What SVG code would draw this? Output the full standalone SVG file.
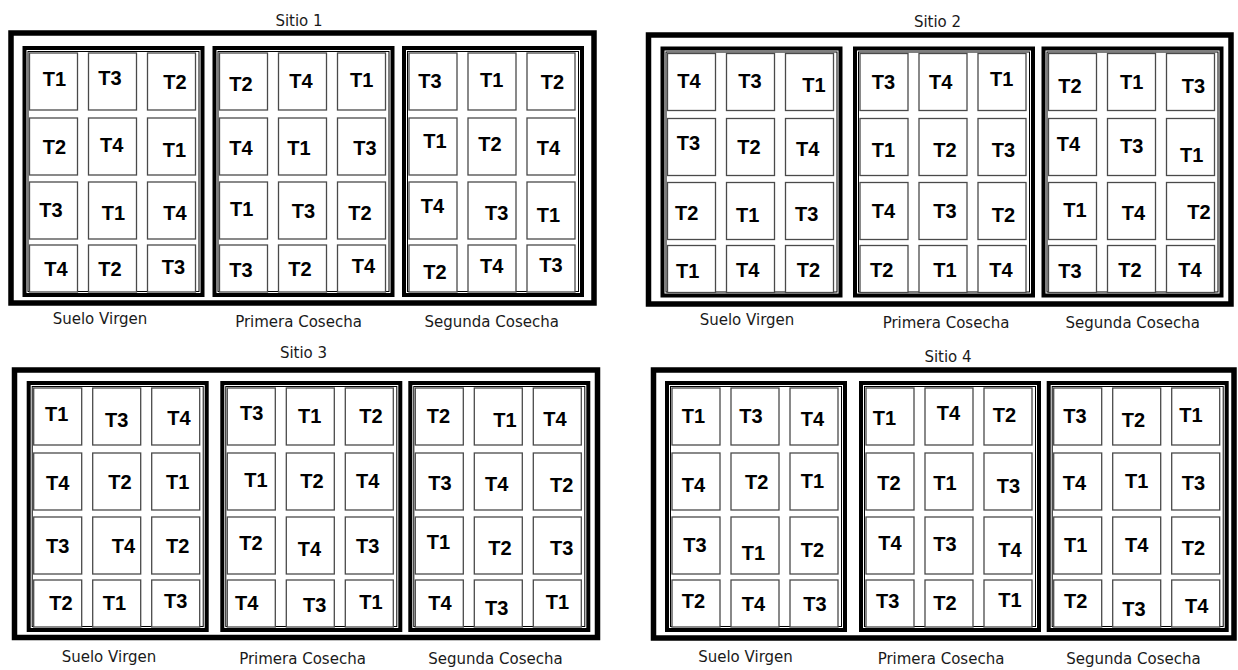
<svg xmlns="http://www.w3.org/2000/svg" width="1238" height="670" viewBox="0 0 1238 670">
<style>
.o{fill:none;stroke:#000;stroke-width:5.5}
.b{fill:none;stroke:#000;stroke-width:4}
.bt{fill:none;stroke:#000;stroke-width:1}
.c{fill:#fff;stroke:#4a4a4a;stroke-width:1.3}
.t{font-family:"Liberation Sans",Arial,sans-serif;font-weight:bold;font-size:20px;fill:#000}
.l{font-family:"DejaVu Sans","Noto Sans",sans-serif;font-size:15px;fill:#1a1a1a;text-anchor:middle}
</style>
<rect width="1238" height="670" fill="#fff"/>

<g id="sitio1">
<text class="l" x="299" y="26">Sitio 1</text>
<rect class="o" x="11" y="33" width="583" height="270"/>
<g id="s1-suelo-virgen">
<rect class="b" x="24.5" y="48" width="178" height="247"/><rect class="bt" x="28" y="51.5" width="171" height="240"/>
<g id="s1b1r1c1"><rect class="c" x="29.5" y="53" width="48" height="57"/><text class="t" x="42.7" y="86">T1</text></g>
<g id="s1b1r1c2"><rect class="c" x="88.5" y="53" width="48" height="57"/><text class="t" x="98.3" y="85">T3</text></g>
<g id="s1b1r1c3"><rect class="c" x="147.5" y="53" width="48" height="57"/><text class="t" x="163.3" y="89.3">T2</text></g>
<g id="s1b1r2c1"><rect class="c" x="29.5" y="118" width="48" height="57"/><text class="t" x="42.7" y="154">T2</text></g>
<g id="s1b1r2c2"><rect class="c" x="88.5" y="118" width="48" height="57"/><text class="t" x="100" y="151.7">T4</text></g>
<g id="s1b1r2c3"><rect class="c" x="147.5" y="118" width="48" height="57"/><text class="t" x="162.7" y="156.7">T1</text></g>
<g id="s1b1r3c1"><rect class="c" x="29.5" y="182" width="48" height="57"/><text class="t" x="39.3" y="217.3">T3</text></g>
<g id="s1b1r3c2"><rect class="c" x="88.5" y="182" width="48" height="57"/><text class="t" x="101.7" y="220">T1</text></g>
<g id="s1b1r3c3"><rect class="c" x="147.5" y="182" width="48" height="57"/><text class="t" x="163.3" y="220">T4</text></g>
<g id="s1b1r4c1"><rect class="c" x="29.5" y="245" width="48" height="47"/><text class="t" x="44.3" y="276">T4</text></g>
<g id="s1b1r4c2"><rect class="c" x="88.5" y="245" width="48" height="47"/><text class="t" x="98.3" y="276">T2</text></g>
<g id="s1b1r4c3"><rect class="c" x="147.5" y="245" width="48" height="47"/><text class="t" x="161.7" y="274">T3</text></g>
</g>
<g id="s1-primera-cosecha">
<rect class="b" x="214.5" y="48" width="178" height="247"/><rect class="bt" x="218" y="51.5" width="171" height="240"/>
<g id="s1b2r1c1"><rect class="c" x="219.5" y="53" width="48" height="57"/><text class="t" x="229.3" y="90.7">T2</text></g>
<g id="s1b2r1c2"><rect class="c" x="278.5" y="53" width="48" height="57"/><text class="t" x="289.3" y="88.3">T4</text></g>
<g id="s1b2r1c3"><rect class="c" x="337.5" y="53" width="48" height="57"/><text class="t" x="350" y="86.7">T1</text></g>
<g id="s1b2r2c1"><rect class="c" x="219.5" y="118" width="48" height="57"/><text class="t" x="229.3" y="155">T4</text></g>
<g id="s1b2r2c2"><rect class="c" x="278.5" y="118" width="48" height="57"/><text class="t" x="287.3" y="155">T1</text></g>
<g id="s1b2r2c3"><rect class="c" x="337.5" y="118" width="48" height="57"/><text class="t" x="353.3" y="155">T3</text></g>
<g id="s1b2r3c1"><rect class="c" x="219.5" y="182" width="48" height="57"/><text class="t" x="230" y="216">T1</text></g>
<g id="s1b2r3c2"><rect class="c" x="278.5" y="182" width="48" height="57"/><text class="t" x="291.7" y="218">T3</text></g>
<g id="s1b2r3c3"><rect class="c" x="337.5" y="182" width="48" height="57"/><text class="t" x="348.3" y="220">T2</text></g>
<g id="s1b2r4c1"><rect class="c" x="219.5" y="245" width="48" height="47"/><text class="t" x="229.3" y="277.3">T3</text></g>
<g id="s1b2r4c2"><rect class="c" x="278.5" y="245" width="48" height="47"/><text class="t" x="288.3" y="276">T2</text></g>
<g id="s1b2r4c3"><rect class="c" x="337.5" y="245" width="48" height="47"/><text class="t" x="351.7" y="273.3">T4</text></g>
</g>
<g id="s1-segunda-cosecha">
<rect class="b" x="404" y="48" width="178" height="247"/><rect class="bt" x="407.5" y="51.5" width="171" height="240"/>
<g id="s1b3r1c1"><rect class="c" x="409" y="53" width="48" height="57"/><text class="t" x="418.3" y="88.3">T3</text></g>
<g id="s1b3r1c2"><rect class="c" x="468" y="53" width="48" height="57"/><text class="t" x="480" y="86.7">T1</text></g>
<g id="s1b3r1c3"><rect class="c" x="527" y="53" width="48" height="57"/><text class="t" x="540.7" y="89.3">T2</text></g>
<g id="s1b3r2c1"><rect class="c" x="409" y="118" width="48" height="57"/><text class="t" x="423.3" y="148.3">T1</text></g>
<g id="s1b3r2c2"><rect class="c" x="468" y="118" width="48" height="57"/><text class="t" x="478.3" y="150.7">T2</text></g>
<g id="s1b3r2c3"><rect class="c" x="527" y="118" width="48" height="57"/><text class="t" x="536.7" y="155">T4</text></g>
<g id="s1b3r3c1"><rect class="c" x="409" y="182" width="48" height="57"/><text class="t" x="420.7" y="213.3">T4</text></g>
<g id="s1b3r3c2"><rect class="c" x="468" y="182" width="48" height="57"/><text class="t" x="485" y="220">T3</text></g>
<g id="s1b3r3c3"><rect class="c" x="527" y="182" width="48" height="57"/><text class="t" x="536.7" y="221.7">T1</text></g>
<g id="s1b3r4c1"><rect class="c" x="409" y="245" width="48" height="47"/><text class="t" x="423.3" y="279.3">T2</text></g>
<g id="s1b3r4c2"><rect class="c" x="468" y="245" width="48" height="47"/><text class="t" x="480" y="273.3">T4</text></g>
<g id="s1b3r4c3"><rect class="c" x="527" y="245" width="48" height="47"/><text class="t" x="539.3" y="271.7">T3</text></g>
</g>
<text class="l" x="100" y="324">Suelo Virgen</text>
<text class="l" x="298.5" y="327">Primera Cosecha</text>
<text class="l" x="491.7" y="327">Segunda Cosecha</text>
</g>

<g id="sitio2">
<text class="l" x="937.5" y="26.7">Sitio 2</text>
<rect class="o" x="648.5" y="35" width="582.5" height="269"/>
<g id="s2-suelo-virgen">
<rect class="b" x="662.5" y="48.5" width="178" height="247"/><rect class="bt" x="666" y="52" width="171" height="240"/>
<g id="s2b1r1c1"><rect class="c" x="667.5" y="53.5" width="48" height="57"/><text class="t" x="677.3" y="88.3">T4</text></g>
<g id="s2b1r1c2"><rect class="c" x="726.5" y="53.5" width="48" height="57"/><text class="t" x="738.3" y="88.3">T3</text></g>
<g id="s2b1r1c3"><rect class="c" x="785.5" y="53.5" width="48" height="57"/><text class="t" x="802.3" y="91.7">T1</text></g>
<g id="s2b1r2c1"><rect class="c" x="667.5" y="118.5" width="48" height="57"/><text class="t" x="676.7" y="150">T3</text></g>
<g id="s2b1r2c2"><rect class="c" x="726.5" y="118.5" width="48" height="57"/><text class="t" x="737.3" y="154">T2</text></g>
<g id="s2b1r2c3"><rect class="c" x="785.5" y="118.5" width="48" height="57"/><text class="t" x="796" y="156">T4</text></g>
<g id="s2b1r3c1"><rect class="c" x="667.5" y="182.5" width="48" height="57"/><text class="t" x="675" y="220">T2</text></g>
<g id="s2b1r3c2"><rect class="c" x="726.5" y="182.5" width="48" height="57"/><text class="t" x="736" y="221.7">T1</text></g>
<g id="s2b1r3c3"><rect class="c" x="785.5" y="182.5" width="48" height="57"/><text class="t" x="795" y="220.7">T3</text></g>
<g id="s2b1r4c1"><rect class="c" x="667.5" y="245.5" width="48" height="47"/><text class="t" x="676" y="278.3">T1</text></g>
<g id="s2b1r4c2"><rect class="c" x="726.5" y="245.5" width="48" height="47"/><text class="t" x="736" y="277.3">T4</text></g>
<g id="s2b1r4c3"><rect class="c" x="785.5" y="245.5" width="48" height="47"/><text class="t" x="796.7" y="276.7">T2</text></g>
</g>
<g id="s2-primera-cosecha">
<rect class="b" x="855" y="48.5" width="178" height="247"/><rect class="bt" x="858.5" y="52" width="171" height="240"/>
<g id="s2b2r1c1"><rect class="c" x="860" y="53.5" width="48" height="57"/><text class="t" x="871.7" y="89.3">T3</text></g>
<g id="s2b2r1c2"><rect class="c" x="919" y="53.5" width="48" height="57"/><text class="t" x="929" y="89.3">T4</text></g>
<g id="s2b2r1c3"><rect class="c" x="978" y="53.5" width="48" height="57"/><text class="t" x="990" y="86">T1</text></g>
<g id="s2b2r2c1"><rect class="c" x="860" y="118.5" width="48" height="57"/><text class="t" x="871.7" y="156.7">T1</text></g>
<g id="s2b2r2c2"><rect class="c" x="919" y="118.5" width="48" height="57"/><text class="t" x="933.3" y="157.3">T2</text></g>
<g id="s2b2r2c3"><rect class="c" x="978" y="118.5" width="48" height="57"/><text class="t" x="991.7" y="156.7">T3</text></g>
<g id="s2b2r3c1"><rect class="c" x="860" y="182.5" width="48" height="57"/><text class="t" x="871.7" y="218.3">T4</text></g>
<g id="s2b2r3c2"><rect class="c" x="919" y="182.5" width="48" height="57"/><text class="t" x="933.3" y="218.3">T3</text></g>
<g id="s2b2r3c3"><rect class="c" x="978" y="182.5" width="48" height="57"/><text class="t" x="991.7" y="221.7">T2</text></g>
<g id="s2b2r4c1"><rect class="c" x="860" y="245.5" width="48" height="47"/><text class="t" x="870" y="276.7">T2</text></g>
<g id="s2b2r4c2"><rect class="c" x="919" y="245.5" width="48" height="47"/><text class="t" x="933.3" y="277.3">T1</text></g>
<g id="s2b2r4c3"><rect class="c" x="978" y="245.5" width="48" height="47"/><text class="t" x="989.3" y="276.7">T4</text></g>
</g>
<g id="s2-segunda-cosecha">
<rect class="b" x="1043.5" y="48.5" width="178" height="247"/><rect class="bt" x="1047" y="52" width="171" height="240"/>
<g id="s2b3r1c1"><rect class="c" x="1048.5" y="53.5" width="48" height="57"/><text class="t" x="1058.3" y="93.3">T2</text></g>
<g id="s2b3r1c2"><rect class="c" x="1107.5" y="53.5" width="48" height="57"/><text class="t" x="1120" y="89.3">T1</text></g>
<g id="s2b3r1c3"><rect class="c" x="1166.5" y="53.5" width="48" height="57"/><text class="t" x="1181.7" y="92.7">T3</text></g>
<g id="s2b3r2c1"><rect class="c" x="1048.5" y="118.5" width="48" height="57"/><text class="t" x="1056.7" y="150.7">T4</text></g>
<g id="s2b3r2c2"><rect class="c" x="1107.5" y="118.5" width="48" height="57"/><text class="t" x="1120" y="153.3">T3</text></g>
<g id="s2b3r2c3"><rect class="c" x="1166.5" y="118.5" width="48" height="57"/><text class="t" x="1180" y="161.7">T1</text></g>
<g id="s2b3r3c1"><rect class="c" x="1048.5" y="182.5" width="48" height="57"/><text class="t" x="1063.3" y="216.7">T1</text></g>
<g id="s2b3r3c2"><rect class="c" x="1107.5" y="182.5" width="48" height="57"/><text class="t" x="1121.7" y="220">T4</text></g>
<g id="s2b3r3c3"><rect class="c" x="1166.5" y="182.5" width="48" height="57"/><text class="t" x="1187.3" y="219.3">T2</text></g>
<g id="s2b3r4c1"><rect class="c" x="1048.5" y="245.5" width="48" height="47"/><text class="t" x="1058.3" y="278.3">T3</text></g>
<g id="s2b3r4c2"><rect class="c" x="1107.5" y="245.5" width="48" height="47"/><text class="t" x="1118.3" y="277.3">T2</text></g>
<g id="s2b3r4c3"><rect class="c" x="1166.5" y="245.5" width="48" height="47"/><text class="t" x="1178.3" y="277.3">T4</text></g>
</g>
<text class="l" x="747" y="325">Suelo Virgen</text>
<text class="l" x="946" y="328">Primera Cosecha</text>
<text class="l" x="1132.8" y="328">Segunda Cosecha</text>
</g>

<g id="sitio3">
<text class="l" x="303.5" y="358">Sitio 3</text>
<rect class="o" x="14.5" y="370" width="583" height="267.5"/>
<g id="s3-suelo-virgen">
<rect class="b" x="28.7" y="383" width="178" height="247"/><rect class="bt" x="32.2" y="386.5" width="171" height="240"/>
<g id="s3b1r1c1"><rect class="c" x="33.7" y="388" width="48" height="57"/><text class="t" x="45" y="421">T1</text></g>
<g id="s3b1r1c2"><rect class="c" x="92.7" y="388" width="48" height="57"/><text class="t" x="105" y="426.7">T3</text></g>
<g id="s3b1r1c3"><rect class="c" x="151.7" y="388" width="48" height="57"/><text class="t" x="167.3" y="425">T4</text></g>
<g id="s3b1r2c1"><rect class="c" x="33.7" y="453" width="48" height="57"/><text class="t" x="46" y="490">T4</text></g>
<g id="s3b1r2c2"><rect class="c" x="92.7" y="453" width="48" height="57"/><text class="t" x="108.3" y="489.3">T2</text></g>
<g id="s3b1r2c3"><rect class="c" x="151.7" y="453" width="48" height="57"/><text class="t" x="166" y="489.3">T1</text></g>
<g id="s3b1r3c1"><rect class="c" x="33.7" y="517" width="48" height="57"/><text class="t" x="46" y="553.3">T3</text></g>
<g id="s3b1r3c2"><rect class="c" x="92.7" y="517" width="48" height="57"/><text class="t" x="111.7" y="553.3">T4</text></g>
<g id="s3b1r3c3"><rect class="c" x="151.7" y="517" width="48" height="57"/><text class="t" x="166" y="553.3">T2</text></g>
<g id="s3b1r4c1"><rect class="c" x="33.7" y="580" width="48" height="47"/><text class="t" x="49.3" y="610">T2</text></g>
<g id="s3b1r4c2"><rect class="c" x="92.7" y="580" width="48" height="47"/><text class="t" x="102.7" y="610">T1</text></g>
<g id="s3b1r4c3"><rect class="c" x="151.7" y="580" width="48" height="47"/><text class="t" x="164" y="608.3">T3</text></g>
</g>
<g id="s3-primera-cosecha">
<rect class="b" x="222.3" y="383" width="178" height="247"/><rect class="bt" x="225.8" y="386.5" width="171" height="240"/>
<g id="s3b2r1c1"><rect class="c" x="227.3" y="388" width="48" height="57"/><text class="t" x="240" y="420">T3</text></g>
<g id="s3b2r1c2"><rect class="c" x="286.3" y="388" width="48" height="57"/><text class="t" x="298" y="423.3">T1</text></g>
<g id="s3b2r1c3"><rect class="c" x="345.3" y="388" width="48" height="57"/><text class="t" x="359.3" y="423.3">T2</text></g>
<g id="s3b2r2c1"><rect class="c" x="227.3" y="453" width="48" height="57"/><text class="t" x="244.3" y="486.7">T1</text></g>
<g id="s3b2r2c2"><rect class="c" x="286.3" y="453" width="48" height="57"/><text class="t" x="300.3" y="488.3">T2</text></g>
<g id="s3b2r2c3"><rect class="c" x="345.3" y="453" width="48" height="57"/><text class="t" x="356" y="488.3">T4</text></g>
<g id="s3b2r3c1"><rect class="c" x="227.3" y="517" width="48" height="57"/><text class="t" x="239.3" y="550">T2</text></g>
<g id="s3b2r3c2"><rect class="c" x="286.3" y="517" width="48" height="57"/><text class="t" x="297.7" y="556">T4</text></g>
<g id="s3b2r3c3"><rect class="c" x="345.3" y="517" width="48" height="57"/><text class="t" x="356" y="553.3">T3</text></g>
<g id="s3b2r4c1"><rect class="c" x="227.3" y="580" width="48" height="47"/><text class="t" x="235" y="610">T4</text></g>
<g id="s3b2r4c2"><rect class="c" x="286.3" y="580" width="48" height="47"/><text class="t" x="303" y="611.7">T3</text></g>
<g id="s3b2r4c3"><rect class="c" x="345.3" y="580" width="48" height="47"/><text class="t" x="359.3" y="609.3">T1</text></g>
</g>
<g id="s3-segunda-cosecha">
<rect class="b" x="410.3" y="383" width="178" height="247"/><rect class="bt" x="413.8" y="386.5" width="171" height="240"/>
<g id="s3b3r1c1"><rect class="c" x="415.3" y="388" width="48" height="57"/><text class="t" x="426.7" y="423.3">T2</text></g>
<g id="s3b3r1c2"><rect class="c" x="474.3" y="388" width="48" height="57"/><text class="t" x="493.3" y="427.3">T1</text></g>
<g id="s3b3r1c3"><rect class="c" x="533.3" y="388" width="48" height="57"/><text class="t" x="543.3" y="426">T4</text></g>
<g id="s3b3r2c1"><rect class="c" x="415.3" y="453" width="48" height="57"/><text class="t" x="428.3" y="490">T3</text></g>
<g id="s3b3r2c2"><rect class="c" x="474.3" y="453" width="48" height="57"/><text class="t" x="485" y="490.7">T4</text></g>
<g id="s3b3r2c3"><rect class="c" x="533.3" y="453" width="48" height="57"/><text class="t" x="550" y="491.7">T2</text></g>
<g id="s3b3r3c1"><rect class="c" x="415.3" y="517" width="48" height="57"/><text class="t" x="426.7" y="549.3">T1</text></g>
<g id="s3b3r3c2"><rect class="c" x="474.3" y="517" width="48" height="57"/><text class="t" x="488.3" y="555">T2</text></g>
<g id="s3b3r3c3"><rect class="c" x="533.3" y="517" width="48" height="57"/><text class="t" x="550" y="555">T3</text></g>
<g id="s3b3r4c1"><rect class="c" x="415.3" y="580" width="48" height="47"/><text class="t" x="428.3" y="610">T4</text></g>
<g id="s3b3r4c2"><rect class="c" x="474.3" y="580" width="48" height="47"/><text class="t" x="485" y="615">T3</text></g>
<g id="s3b3r4c3"><rect class="c" x="533.3" y="580" width="48" height="47"/><text class="t" x="545.7" y="609.3">T1</text></g>
</g>
<text class="l" x="109" y="662">Suelo Virgen</text>
<text class="l" x="302.5" y="664">Primera Cosecha</text>
<text class="l" x="495.5" y="664">Segunda Cosecha</text>
</g>

<g id="sitio4">
<text class="l" x="948" y="362">Sitio 4</text>
<rect class="o" x="653.5" y="370" width="580.5" height="268"/>
<g id="s4-suelo-virgen">
<rect class="b" x="667" y="383" width="178" height="247"/><rect class="bt" x="670.5" y="386.5" width="171" height="240"/>
<g id="s4b1r1c1"><rect class="c" x="672" y="388" width="48" height="57"/><text class="t" x="681.7" y="423.3">T1</text></g>
<g id="s4b1r1c2"><rect class="c" x="731" y="388" width="48" height="57"/><text class="t" x="739.3" y="422.7">T3</text></g>
<g id="s4b1r1c3"><rect class="c" x="790" y="388" width="48" height="57"/><text class="t" x="800.7" y="426">T4</text></g>
<g id="s4b1r2c1"><rect class="c" x="672" y="453" width="48" height="57"/><text class="t" x="681.7" y="491.7">T4</text></g>
<g id="s4b1r2c2"><rect class="c" x="731" y="453" width="48" height="57"/><text class="t" x="745" y="489.3">T2</text></g>
<g id="s4b1r2c3"><rect class="c" x="790" y="453" width="48" height="57"/><text class="t" x="800.7" y="488.3">T1</text></g>
<g id="s4b1r3c1"><rect class="c" x="672" y="517" width="48" height="57"/><text class="t" x="683.3" y="551.7">T3</text></g>
<g id="s4b1r3c2"><rect class="c" x="731" y="517" width="48" height="57"/><text class="t" x="741.7" y="560">T1</text></g>
<g id="s4b1r3c3"><rect class="c" x="790" y="517" width="48" height="57"/><text class="t" x="800.7" y="556.7">T2</text></g>
<g id="s4b1r4c1"><rect class="c" x="672" y="580" width="48" height="47"/><text class="t" x="681.7" y="608.3">T2</text></g>
<g id="s4b1r4c2"><rect class="c" x="731" y="580" width="48" height="47"/><text class="t" x="741.7" y="610.7">T4</text></g>
<g id="s4b1r4c3"><rect class="c" x="790" y="580" width="48" height="47"/><text class="t" x="803.3" y="610.7">T3</text></g>
</g>
<g id="s4-primera-cosecha">
<rect class="b" x="861" y="383" width="178" height="247"/><rect class="bt" x="864.5" y="386.5" width="171" height="240"/>
<g id="s4b2r1c1"><rect class="c" x="866" y="388" width="48" height="57"/><text class="t" x="872.7" y="425">T1</text></g>
<g id="s4b2r1c2"><rect class="c" x="925" y="388" width="48" height="57"/><text class="t" x="936.7" y="420">T4</text></g>
<g id="s4b2r1c3"><rect class="c" x="984" y="388" width="48" height="57"/><text class="t" x="992.7" y="421.7">T2</text></g>
<g id="s4b2r2c1"><rect class="c" x="866" y="453" width="48" height="57"/><text class="t" x="877.3" y="490">T2</text></g>
<g id="s4b2r2c2"><rect class="c" x="925" y="453" width="48" height="57"/><text class="t" x="933.3" y="490">T1</text></g>
<g id="s4b2r2c3"><rect class="c" x="984" y="453" width="48" height="57"/><text class="t" x="996.7" y="492.7">T3</text></g>
<g id="s4b2r3c1"><rect class="c" x="866" y="517" width="48" height="57"/><text class="t" x="878.3" y="550">T4</text></g>
<g id="s4b2r3c2"><rect class="c" x="925" y="517" width="48" height="57"/><text class="t" x="933.3" y="550.7">T3</text></g>
<g id="s4b2r3c3"><rect class="c" x="984" y="517" width="48" height="57"/><text class="t" x="998.3" y="556.7">T4</text></g>
<g id="s4b2r4c1"><rect class="c" x="866" y="580" width="48" height="47"/><text class="t" x="876" y="608.3">T3</text></g>
<g id="s4b2r4c2"><rect class="c" x="925" y="580" width="48" height="47"/><text class="t" x="933.3" y="610">T2</text></g>
<g id="s4b2r4c3"><rect class="c" x="984" y="580" width="48" height="47"/><text class="t" x="998.3" y="607.3">T1</text></g>
</g>
<g id="s4-segunda-cosecha">
<rect class="b" x="1048.7" y="383" width="178" height="247"/><rect class="bt" x="1052.2" y="386.5" width="171" height="240"/>
<g id="s4b3r1c1"><rect class="c" x="1053.7" y="388" width="48" height="57"/><text class="t" x="1063.3" y="422.7">T3</text></g>
<g id="s4b3r1c2"><rect class="c" x="1112.7" y="388" width="48" height="57"/><text class="t" x="1121.7" y="427.3">T2</text></g>
<g id="s4b3r1c3"><rect class="c" x="1171.7" y="388" width="48" height="57"/><text class="t" x="1179.3" y="421.7">T1</text></g>
<g id="s4b3r2c1"><rect class="c" x="1053.7" y="453" width="48" height="57"/><text class="t" x="1062.7" y="490">T4</text></g>
<g id="s4b3r2c2"><rect class="c" x="1112.7" y="453" width="48" height="57"/><text class="t" x="1125" y="488.3">T1</text></g>
<g id="s4b3r2c3"><rect class="c" x="1171.7" y="453" width="48" height="57"/><text class="t" x="1181.7" y="490">T3</text></g>
<g id="s4b3r3c1"><rect class="c" x="1053.7" y="517" width="48" height="57"/><text class="t" x="1064" y="551.7">T1</text></g>
<g id="s4b3r3c2"><rect class="c" x="1112.7" y="517" width="48" height="57"/><text class="t" x="1125" y="551.7">T4</text></g>
<g id="s4b3r3c3"><rect class="c" x="1171.7" y="517" width="48" height="57"/><text class="t" x="1181.7" y="555">T2</text></g>
<g id="s4b3r4c1"><rect class="c" x="1053.7" y="580" width="48" height="47"/><text class="t" x="1064" y="608.3">T2</text></g>
<g id="s4b3r4c2"><rect class="c" x="1112.7" y="580" width="48" height="47"/><text class="t" x="1122.3" y="616">T3</text></g>
<g id="s4b3r4c3"><rect class="c" x="1171.7" y="580" width="48" height="47"/><text class="t" x="1185" y="612.7">T4</text></g>
</g>
<text class="l" x="745.5" y="662">Suelo Virgen</text>
<text class="l" x="941" y="664">Primera Cosecha</text>
<text class="l" x="1133.5" y="664">Segunda Cosecha</text>
</g>
</svg>
